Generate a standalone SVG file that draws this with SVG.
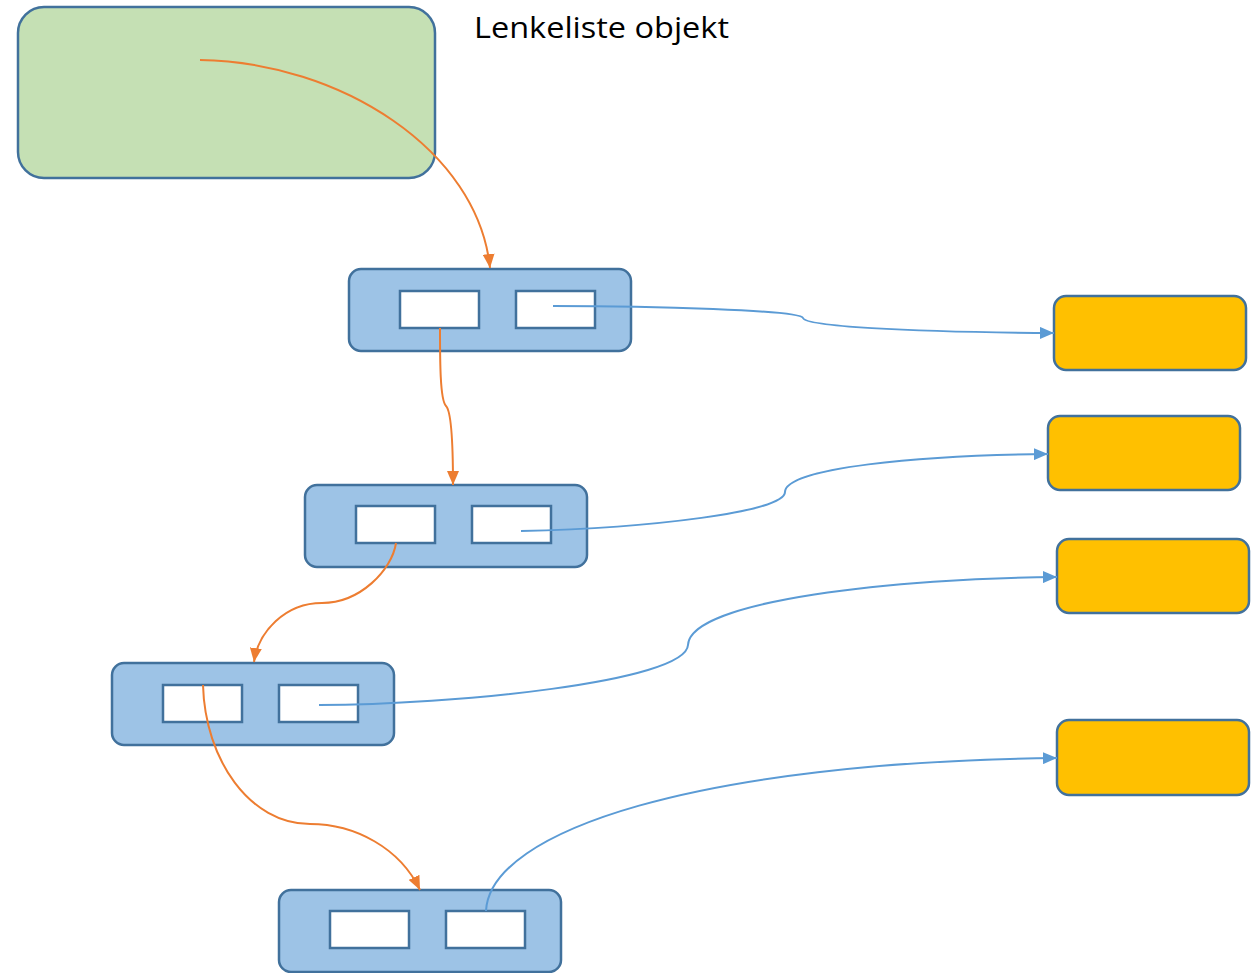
<svg xmlns="http://www.w3.org/2000/svg" width="1258" height="973" viewBox="0 0 1258 973">
<style>
.node{fill:#9dc3e6;stroke:#41719c;stroke-width:2.5}
.cell{fill:#ffffff;stroke:#41719c;stroke-width:2.5}
.obj{fill:#ffc000;stroke:#41719c;stroke-width:2.5}
.head{fill:#c5e0b4;stroke:#41719c;stroke-width:2.5}
.or{fill:none;stroke:#ed7d31;stroke-width:2}
.bl{fill:none;stroke:#5b9bd5;stroke-width:2}
.lbl{font-family:"Open Sans","Liberation Sans",sans-serif;font-size:29px;fill:#000}
</style>
<defs>
<marker id="ao" viewBox="0 0 14 12" refX="14" refY="6" markerWidth="14" markerHeight="12" markerUnits="userSpaceOnUse" orient="auto"><path d="M0,0 L14,6 L0,12 Z" fill="#ed7d31"/></marker>
<marker id="ab" viewBox="0 0 14 12" refX="14" refY="6" markerWidth="14" markerHeight="12" markerUnits="userSpaceOnUse" orient="auto"><path d="M0,0 L14,6 L0,12 Z" fill="#5b9bd5"/></marker>
</defs>
<rect width="1258" height="973" fill="#ffffff"/>
<g id="head">
<rect class="head" x="18" y="7" width="417" height="171" rx="26"/>
</g>
<text class="lbl" x="474" y="38" textLength="255" lengthAdjust="spacingAndGlyphs">Lenkeliste objekt</text>
<g id="node1">
<rect class="node" x="349" y="269" width="282" height="82" rx="12"/>
<rect class="cell" x="400" y="291" width="79" height="37"/>
<rect class="cell" x="516" y="291" width="79" height="37"/>
</g>
<g id="node2">
<rect class="node" x="305" y="485" width="282" height="82" rx="12"/>
<rect class="cell" x="356" y="506" width="79" height="37"/>
<rect class="cell" x="472" y="506" width="79" height="37"/>
</g>
<g id="node3">
<rect class="node" x="112" y="663" width="282" height="82" rx="12"/>
<rect class="cell" x="163" y="685" width="79" height="37"/>
<rect class="cell" x="279" y="685" width="79" height="37"/>
</g>
<g id="node4">
<rect class="node" x="279" y="890" width="282" height="82" rx="12"/>
<rect class="cell" x="330" y="911" width="79" height="37"/>
<rect class="cell" x="446" y="911" width="79" height="37"/>
</g>
<g id="obj1"><rect class="obj" x="1054" y="296" width="192" height="74" rx="12"/></g>
<g id="obj2"><rect class="obj" x="1048" y="416" width="192" height="74" rx="12"/></g>
<g id="obj3"><rect class="obj" x="1057" y="539" width="192" height="74" rx="12"/></g>
<g id="obj4"><rect class="obj" x="1057" y="720" width="192" height="75" rx="12"/></g>
<g id="connectors">
<path class="or" marker-end="url(#ao)" d="M200,60 C340,62 478,150 490,268"/>
<path class="or" marker-end="url(#ao)" d="M440,328 C440,360 440,400 446,406 C452,412 453,450 453,485"/>
<path class="or" marker-end="url(#ao)" d="M396,543 C392,570 360,603 322,603 C285,603 258,632 254,662"/>
<path class="or" marker-end="url(#ao)" d="M203,685 C205,760 250,824 310,824 C355,824 400,848 420,890"/>
<path class="bl" marker-end="url(#ab)" d="M553,306 C650,306 800,310 803,318 C806,326 900,332 1054,333"/>
<path class="bl" marker-end="url(#ab)" d="M521,531 C650,528 785,512 785,492 C785,468 920,455 1048,454"/>
<path class="bl" marker-end="url(#ab)" d="M319,705 C450,705 686,682 688,645 C690,600 900,578 1057,577"/>
<path class="bl" marker-end="url(#ab)" d="M486,911 C490,830 700,762 1057,758"/>
</g>
</svg>
